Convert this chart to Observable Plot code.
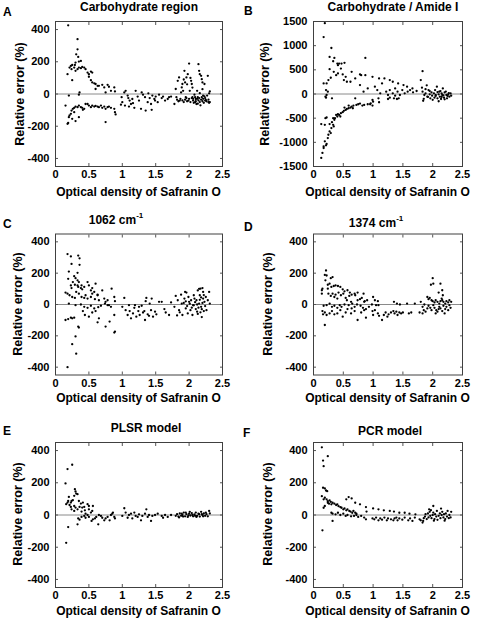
<!DOCTYPE html>
<html><head><meta charset="utf-8">
<script src="https://cdn.jsdelivr.net/npm/d3@7"></script>
<script src="https://cdn.jsdelivr.net/npm/@observablehq/plot@0.6"></script>
<style>
body{margin:0;background:#fff;}
#fig{position:relative;width:483px;height:621px;background:#fff;font-family:"Liberation Sans",Arial,sans-serif;font-weight:bold;color:#000;overflow:hidden}
.p{position:absolute}
.lab{position:absolute;white-space:nowrap;transform:translate(-50%,-50%);font-size:12px;line-height:1}
.ylab{transform:translate(-50%,-50%) rotate(-90deg);font-size:12.5px}
.letter{position:absolute;font-size:12px;line-height:1}
sup{font-size:8px;vertical-align:6px;line-height:0}
</style></head><body><div id="fig"></div>
<script>
const xTicks=[0,0.5,1,1.5,2,2.5];
const yTicks=[-400,-200,0,200,400];
const yTicksB=[-1500,-1000,-500,0,500,1000,1500];
const letters=["A","B","C","D","E","F"];
const titleText=["Carbohydrate region","Carbohydrate / Amide I","1062 cm","1374 cm","PLSR model","PCR model"];
const titleSup=["","","-1","-1","",""];
const xLabel="Optical density of Safranin O";
const yLabel="Relative error (%)";

const panelA=[[0.19,426],[0.33,340],[0.33,277],[0.31,246],[0.34,230],[0.30,195],[0.35,201],[0.38,205],[0.23,174],[0.25,180],[0.28,164],[0.30,144],[0.33,154],[0.35,164],[0.38,160],[0.40,168],[0.43,164],[0.45,154],[0.48,133],[0.50,123],[0.53,139],[0.55,133],[0.18,123],[0.25,86],[0.21,164],[0.24,154],[0.29,180],[0.50,107],[0.53,86],[0.55,72],[0.58,66],[0.60,62],[0.63,51],[0.65,51],[0.70,57],[0.73,41],[0.78,57],[0.80,45],[0.83,20],[0.88,41],[0.89,16],[0.75,10],[0.60,31],[0.20,-10],[0.36,10],[0.35,-4],
[0.18,-185],[0.19,-180],[0.20,-144],[0.23,-123],[0.24,-103],[0.26,-92],[0.28,-86],[0.30,-78],[0.33,-82],[0.35,-72],[0.38,-82],[0.40,-86],[0.43,-92],[0.45,-62],[0.48,-62],[0.50,-72],[0.53,-82],[0.55,-72],[0.58,-78],[0.60,-74],[0.63,-78],[0.65,-82],[0.68,-72],[0.70,-86],[0.73,-78],[0.75,-92],[0.78,-82],[0.80,-78],[0.83,-86],[0.88,-92],[0.89,-113],[0.90,-127],[0.25,-154],[0.30,-168],[0.35,-144],[0.75,-174],[0.15,-72],[0.21,-133],[0.28,-113],[0.41,-98],[0.98,-66],[0.99,-20],[1.04,-72],[1.10,-78],[1.16,-57],
[1.00,-51],[1.03,10],[1.05,20],[1.08,-10],[1.09,-25],[1.11,-41],[1.13,-62],[1.15,-31],[1.18,-86],[1.20,20],[1.23,-16],[1.25,-41],[1.28,-92],[1.29,10],[1.31,-4],[1.34,-20],[1.35,-103],[1.38,-51],[1.39,4],[1.41,-25],[1.43,-62],[1.44,-98],[1.45,-10],[1.48,-31],[1.49,-41],[1.50,-16],[1.53,-51],[1.55,-4],[1.59,-25],[1.61,-16],[1.64,-41],[1.68,-31],[1.70,-20],[1.73,-16],[1.78,-62],
[1.80,31],[1.81,-20],[1.83,82],[1.85,103],[1.86,-41],[1.88,10],[1.89,41],[1.90,62],[1.91,20],[1.93,144],[1.94,72],[1.95,-20],[1.96,103],[1.98,123],[1.99,-41],[2.00,189],[2.01,20],[2.03,82],[2.04,62],[2.05,-20],[2.06,-41],[2.08,-4],[2.09,-51],[2.10,-31],[2.11,-62],[2.13,-20],[2.14,185],[2.15,144],[2.16,123],[2.18,113],[2.19,92],[2.20,72],[2.21,-10],[2.23,62],[2.24,-41],[2.25,-37],[2.28,113],[2.29,-51],[2.30,4],[2.31,16],
[1.82,-35],[1.84,-45],[1.87,-30],[1.90,-40],[1.92,-50],[1.94,-35],[1.96,-25],[1.97,-45],[2.00,-30],[2.02,-50],[2.04,-25],[2.06,-30],[2.07,-55],[2.09,-20],[2.10,-45],[2.12,-30],[2.13,-60],[2.14,-40],[2.15,-25],[2.16,-50],[2.17,-70],[2.18,-35],[2.19,-20],[2.20,-45],[2.21,-30],[2.22,-55],[2.23,-15],[2.24,-25],[2.26,-45],[2.27,-10],[2.29,-35],[2.30,-55],[2.31,-50],[2.02,100],[2.05,40],[1.97,60],[1.92,90],[2.12,20],[2.16,5],[2.20,30]];

const panelB=[[0.19,1466],[0.17,1178],[0.30,952],[0.27,767],[0.35,747],[0.40,630],[0.43,630],[0.41,596],[0.33,678],[0.47,630],[0.52,644],[0.46,527],[0.27,514],[0.34,459],[0.38,390],[0.41,425],[0.49,404],[0.54,356],[0.51,288],[0.56,253],[0.62,253],[0.64,459],[0.70,322],[0.78,404],[0.80,390],[0.87,747],[0.87,390],[0.99,356],[1.10,322],[1.19,322],[1.28,288],[1.33,253],[1.42,219],[1.51,185],[1.57,151],[1.66,116],[1.80,288],[1.83,473],
[0.17,219],[0.22,219],[0.25,288],[0.29,336],[0.21,82],[0.24,48],[0.20,-55],[0.22,-21],[0.21,-75],[0.31,-89],[0.78,185],[0.84,48],[0.91,116],[1.03,151],[1.07,82],[1.12,14],[1.15,219],[1.22,48],[1.25,-21],[1.28,82],[1.33,14],[1.37,116],[1.41,48],[1.45,-21],[1.49,82],[1.53,14],[1.58,48],[1.62,82],[1.67,34],[1.73,62],
[0.70,-89],[0.99,-123],[1.00,-158],[1.09,-89],[1.10,-171],[1.25,-103],[1.28,-75],[1.35,-89],[1.37,-34],[1.40,-103],[1.43,-89],[0.95,-212],[0.99,-240],
[0.13,-1322],[0.15,-1219],[0.17,-1082],[0.19,-979],[0.17,-1117],[0.22,-1034],[0.21,-1062],[0.24,-911],[0.25,-843],[0.20,-500],[0.22,-486],[0.19,-637],[0.13,-623],[0.27,-774],[0.30,-706],[0.31,-582],[0.33,-637],[0.35,-534],[0.34,-671],[0.36,-500],[0.40,-466],[0.41,-418],[0.43,-432],[0.46,-397],[0.49,-377],[0.51,-349],[0.54,-329],[0.56,-308],[0.59,-295],[0.62,-281],[0.64,-260],[0.67,-240],[0.72,-226],[0.75,-212],[0.78,-199],[0.82,-240],[0.85,-226],[0.91,-212],[0.96,-192],[0.33,-500],[0.38,-432],[0.45,-466],[0.52,-281],[0.59,-240],[0.66,-295],[0.29,-808],[0.27,-623],
[1.83,48],[1.86,-21],[1.88,14],[1.91,-55],[1.93,82],[1.95,-7],[1.96,-89],[1.98,34],[1.99,-34],[2.02,14],[2.03,-75],[2.04,82],[2.05,-21],[2.07,151],[2.08,-89],[2.10,-7],[2.11,48],[2.12,-55],[2.14,-103],[2.15,14],[2.16,-21],[2.17,116],[2.19,-75],[2.20,34],[2.23,-21],[2.24,-89],[2.26,-7],[2.28,-55],[2.30,14],[2.31,-34],
[1.85,-100],[1.88,100],[1.90,180],[1.92,-60],[1.95,60],[2.00,-120],[2.05,-40],[2.08,40],[2.10,-150],[2.13,60],[2.15,-60],[2.18,-30],[2.20,-110],[2.22,50],[2.25,-40],[2.27,20],[1.84,-140],[1.82,130]];

const panelC=[[0.18,322],[0.23,307],[0.34,312],[0.36,295],[0.36,253],[0.24,259],[0.20,210],[0.33,202],[0.28,181],[0.30,168],[0.33,154],[0.35,143],
[0.19,164],[0.23,122],[0.24,105],[0.26,143],[0.29,126],[0.33,122],[0.34,112],[0.38,105],[0.40,97],[0.39,122],[0.43,112],[0.48,143],[0.50,122],[0.53,90],[0.55,105],[0.58,80],[0.60,133],[0.63,59],
[0.15,76],[0.18,69],[0.21,59],[0.25,48],[0.29,42],[0.31,80],[0.35,69],[0.39,48],[0.43,42],[0.45,59],[0.48,38],[0.53,48],[0.55,69],[0.59,34],[0.63,63],[0.65,27],[0.70,90],[0.73,38],[0.75,17],[0.78,27],[0.80,-4],[0.84,101],[0.88,48],[0.89,21],
[0.20,6],[0.30,-4],[0.38,0],[0.43,-15],[0.48,-21],[0.53,-8],[0.58,-25],[0.60,-42],[0.64,-17],[0.68,-8],[0.74,6],[0.78,-4],[0.83,-15],
[0.19,-93],[0.23,-84],[0.25,-88],[0.28,-84],[0.41,-42],[0.44,-67],[0.50,-78],[0.55,-51],[0.63,-114],[0.65,-88],[0.75,-141],[0.81,-109],[0.88,-67],[0.89,-173],[0.88,-179],
[0.34,-141],[0.35,-147],[0.30,-204],[0.25,-253],[0.31,-314],[0.18,-400],[0.15,-99],
[1.00,-15],[1.03,42],[1.05,-36],[1.08,-67],[1.10,-4],[1.13,-88],[1.16,-57],[1.19,-4],[1.21,-78],[1.24,-42],[1.26,-67],[1.29,-8],[1.31,-51],[1.34,-99],[1.36,42],[1.38,-63],[1.40,-72],[1.43,-36],[1.44,38],[1.46,-78],[1.49,-46],[1.51,-63],[1.55,17],[1.59,17],[1.63,-29],[1.65,-51],[1.70,-67],[1.73,13],[1.35,21],[1.41,6],[1.25,-15],[1.18,-21],[1.11,-42],[1.33,-42],
[1.78,-15],[1.80,55],[1.83,27],[1.85,-36],[1.88,63],[1.89,6],[1.90,-67],[1.93,38],[1.94,80],[1.95,-25],[1.96,76],[1.98,-57],[1.99,48],[2.00,17],[2.02,-36],[2.03,27],[2.05,-67],[2.06,-4],[2.07,59],[2.08,38],[2.10,-29],[2.11,27],[2.12,-46],[2.13,90],[2.15,6],[2.16,59],[2.17,101],[2.18,-15],[2.20,105],[2.21,38],[2.22,-42],[2.23,17],[2.25,48],[2.26,-36],[2.28,27],[2.30,80],[2.31,6],
[1.92,10],[1.97,-10],[2.01,5],[2.04,-20],[2.09,15],[2.12,0],[2.14,-20],[2.16,30],[2.18,45],[2.19,-30],[2.20,10],[2.22,60],[2.24,-10],[2.17,-50],[2.13,-60],[2.07,-5],[1.95,20],[1.86,-50],[1.82,-70],[2.21,80],[2.15,100],[2.19,-80]];

const panelD=[[0.21,217],[0.19,189],[0.22,185],[0.20,154],[0.29,168],[0.32,175],[0.24,126],[0.27,133],[0.24,101],[0.14,91],[0.15,101],[0.14,69],
[0.30,112],[0.34,118],[0.37,122],[0.41,118],[0.45,112],[0.49,97],[0.52,84],[0.57,91],[0.61,76],[0.64,63],[0.69,69],[0.74,76],[0.84,69],[0.86,21],
[0.25,69],[0.29,55],[0.32,69],[0.35,48],[0.37,63],[0.40,38],[0.42,76],[0.46,59],[0.50,69],[0.54,42],[0.56,27],[0.60,55],[0.63,17],[0.65,6],[0.70,59],[0.74,27],[0.78,34],[0.81,42],[0.85,17],[0.90,27],[1.00,48],[1.03,27],[1.08,21],[1.09,-4],
[0.17,-8],[0.22,-4],[0.27,6],[0.31,-15],[0.35,-8],[0.40,-21],[0.44,-4],[0.47,-15],[0.52,0],[0.59,-4],[0.64,-25],[0.69,-15],[0.73,0],[0.79,-8],[0.83,-21],[0.88,-29],[0.93,-15],[0.98,0],[1.05,-4],
[0.15,-42],[0.19,-51],[0.16,-63],[0.22,-67],[0.27,-57],[0.31,-42],[0.35,-63],[0.40,-57],[0.45,-36],[0.49,-78],[0.54,-51],[0.57,-29],[0.63,-57],[0.69,-42],[0.74,-99],[0.80,-51],[0.85,-36],[0.88,-84],[0.99,-42],[1.00,-67],[1.03,-36],[1.08,-57],[1.10,-72],[1.15,-99],[1.18,-67],[1.21,-51],[1.24,-78],[1.26,-63],[1.30,-51],[1.34,-42],[1.36,-57],[1.39,-46],[1.41,-67],[1.44,-51],[1.47,-57],[1.50,-51],[1.35,17],[1.40,6],[1.45,0],[1.57,6],[1.60,-57],[1.64,-51],[1.70,6],[0.19,-131],
[2.00,168],[1.97,126],[2.01,133],[2.10,76],[2.13,133],[2.16,91],[2.17,59],[2.15,38],
[1.91,48],[1.93,34],[1.95,42],[1.98,27],[2.00,21],[2.03,13],[2.05,27],[2.08,17],[2.11,6],[2.13,21],[2.16,27],[2.18,17],[2.21,6],[2.23,21],[2.26,13],[2.28,27],[2.31,17],
[1.80,17],[1.83,-15],[1.85,-36],[1.88,-46],[1.91,-25],[1.93,-8],[1.96,-21],[1.98,-36],[2.01,-4],[2.03,-21],[2.06,-36],[2.08,-46],[2.11,-15],[2.13,-25],[2.16,-42],[2.18,-8],[2.21,-29],[2.23,-15],[2.26,-36],[2.28,-4],[2.30,-21],[1.78,-51],[1.83,-57],[1.86,0],[2.05,-57],[2.10,-29],[2.20,-57]];

const panelE=[[0.25,312],[0.18,285],[0.15,196],
[0.29,160],[0.31,133],[0.30,146],[0.33,129],[0.28,119],[0.20,112],[0.19,87],[0.24,87],[0.26,92],[0.18,77],[0.16,67],[0.23,77],[0.21,62],[0.23,50],[0.28,56],[0.35,87],[0.38,71],[0.41,77],[0.24,35],[0.28,25],[0.30,46],[0.33,35],[0.36,50],[0.40,46],[0.43,50],[0.48,67],[0.50,56],[0.39,21],[0.44,29],[0.50,35],[0.53,15],[0.55,25],[0.56,56],[0.45,8],
[0.19,-75],[0.16,-173],[0.33,-58],
[0.34,-21],[0.36,-29],[0.39,-12],[0.43,-6],[0.45,-17],[0.48,0],[0.50,-12],[0.54,-37],[0.56,-27],[0.59,-21],[0.61,-12],[0.64,-58],[0.65,0],[0.68,-6],[0.70,-17],[0.73,-33],[0.75,-21],[0.78,-12],[0.81,-33],[0.83,0],[0.85,8],[0.88,-12],[0.89,-21],[0.86,15],
[1.00,-6],[1.03,42],[1.05,15],[1.08,-17],[1.10,0],[1.13,8],[1.15,-21],[1.18,15],[1.20,-6],[1.23,-12],[1.25,4],[1.28,-33],[1.30,-6],[1.34,8],[1.36,35],[1.38,-12],[1.40,0],[1.43,-37],[1.45,-6],[1.49,0],[1.53,8],[1.59,-6],[1.61,-17],[1.64,0],[1.68,-12],[1.73,0],
[1.80,-5],[1.82,5],[1.84,-10],[1.86,10],[1.88,-5],[1.90,0],[1.92,15],[1.94,-8],[1.96,5],[1.98,-12],[2.00,8],[2.02,-3],[2.04,12],[2.06,-8],[2.08,3],[2.10,15],[2.12,-5],[2.14,8],[2.16,-10],[2.18,20],[2.20,0],[2.22,10],[2.24,-5],[2.26,5],[2.28,-8],[2.30,25],[2.31,10],[1.85,-15],[1.95,15],[2.05,0],[2.15,5],[2.25,15],[1.91,-10],[2.01,20],[2.11,-12],[2.21,-8],[2.19,5],[2.09,-5],[1.99,-3],[1.89,8]];

const panelF=[[0.14,420],[0.16,338],[0.24,365],[0.17,303],
[0.16,169],[0.19,165],[0.21,152],[0.23,148],
[0.14,117],[0.17,97],[0.19,107],[0.22,97],[0.24,86],[0.27,91],[0.24,76],[0.26,70],[0.29,82],[0.30,66],[0.32,76],[0.35,70],[0.38,62],[0.40,66],[0.42,55],[0.45,49],[0.47,45],[0.50,35],[0.52,41],[0.55,29],[0.57,35],[0.60,25],[0.62,21],[0.65,14],[0.67,25],[0.70,14],[0.72,8],
[0.55,97],[0.59,111],[0.64,103],[0.70,76],[0.78,66],[0.88,49],[0.89,21],[1.00,41],[1.09,35],[1.18,29],[1.28,25],[1.35,21],[1.44,14],[1.53,14],[1.61,8],[1.71,4],
[0.19,56],[0.17,45],
[0.30,14],[0.32,8],[0.37,4],[0.41,14],[0.45,0],[0.50,8],[0.54,-6],[0.57,0],[0.63,-8],[0.68,-6],[0.72,0],[0.75,-12],[0.80,-6],[0.85,-16],[0.88,-27],[0.32,-37],[0.15,-95],
[0.99,-21],[1.02,-27],[1.05,-16],[1.09,-33],[1.12,-21],[1.15,-29],[1.19,-16],[1.23,-33],[1.25,-21],[1.30,-27],[1.34,-33],[1.36,-21],[1.39,-16],[1.41,-33],[1.44,-21],[1.49,-29],[1.53,-16],[1.59,-33],[1.62,-21],[1.66,-37],[1.70,-16],[1.78,-27],[1.80,-33],[1.83,-47],[1.84,-37],[2.01,56],
[1.85,-20],[1.87,-10],[1.88,5],[1.90,-25],[1.92,10],[1.93,-15],[1.95,20],[1.96,-5],[1.97,30],[1.98,-20],[2.00,0],[2.01,15],[2.03,-25],[2.04,5],[2.06,-10],[2.07,25],[2.08,-30],[2.10,-5],[2.12,10],[2.13,-20],[2.15,0],[2.16,20],[2.18,-15],[2.19,5],[2.21,-25],[2.22,10],[2.24,-10],[2.25,25],[2.27,-20],[2.28,0],[2.30,-15],[2.31,20],[1.94,35],[2.02,-35],[2.14,40],[2.20,-35]];

const datasets=[panelA,panelB,panelC,panelD,panelE,panelF];

// layout (positions only)
const layout=[
 {left:0,  top:0,   w:240,h:205,ml:55,mr:18,mt:21,  mb:39,  letter:[3,6],   title:[139,7],  ylab:[20,93.5], xlab:[138.5,191.5]},
 {left:240,top:0,   w:243,h:205,ml:73,mr:21,mt:21,  mb:39,  letter:[244,5], title:[393,7],  ylab:[265,93.5],xlab:[387.5,191.5]},
 {left:0,  top:205, w:240,h:205,ml:55,mr:18,mt:28.5,mb:35.5,letter:[3,218], title:[116,220],ylab:[18,304],  xlab:[138.5,398]},
 {left:240,top:205, w:243,h:205,ml:73,mr:21,mt:28.5,mb:35.5,letter:[244,221],title:[376,223],ylab:[268,304], xlab:[387.5,398]},
 {left:0,  top:410, w:240,h:211,ml:55,mr:18,mt:32,  mb:34,  letter:[3,425], title:[146,428],ylab:[18,514],  xlab:[138.5,611]},
 {left:240,top:410, w:243,h:211,ml:73,mr:21,mt:32,  mb:34,  letter:[243,427],title:[390,431],ylab:[268,514], xlab:[387.5,611]}
];

const fig=document.getElementById("fig");
const fmt=d=>String(d);
function addDiv(cls,html,x,y){const e=document.createElement("div");e.className=cls;e.innerHTML=html;e.style.left=x+"px";e.style.top=y+"px";fig.appendChild(e);return e;}

layout.forEach((L,i)=>{
  const big=i===1;
  const yT=big?yTicksB:yTicks;
  const chart=Plot.plot({
    width:L.w,height:L.h,
    marginLeft:L.ml,marginRight:L.mr,marginTop:L.mt,marginBottom:L.mb,
    x:{domain:[0,2.5]},
    y:{domain:big?[-1500,1500]:[-450,450]},
    style:{fontFamily:"'Liberation Sans',Arial,sans-serif",fontSize:"11px",fontWeight:"bold",color:"#000",background:"transparent",overflow:"visible"},
    marks:[
      Plot.ruleY([0],{stroke:"#8a8a8a",strokeWidth:1}),
      Plot.dot(datasets[i],{x:d=>d[0],y:d=>d[1],r:1.15,fill:"#000",stroke:null}),
      Plot.axisX(xTicks,{anchor:"bottom",tickSize:0,tickPadding:4,tickFormat:fmt,label:null}),
      Plot.axisX(xTicks,{anchor:"bottom",tickSize:3,dy:-3,tickFormat:()=>"",label:null,stroke:"#555"}),
      Plot.axisX(xTicks,{anchor:"top",tickSize:3,dy:3,tickFormat:()=>"",label:null,stroke:"#555"}),
      Plot.axisY(yT,{anchor:"left",tickSize:0,tickPadding:6,tickFormat:fmt,label:null}),
      Plot.axisY(yT,{anchor:"left",tickSize:3,dx:3,tickFormat:()=>"",label:null,stroke:"#555"}),
      Plot.axisY(yT,{anchor:"right",tickSize:3,dx:-3,tickFormat:()=>"",label:null,stroke:"#555"}),
      Plot.frame({stroke:"#404040"})
    ]
  });
  const wrap=document.createElement("div");
  wrap.className="p";wrap.style.left=L.left+"px";wrap.style.top=L.top+"px";
  wrap.appendChild(chart);fig.appendChild(wrap);
  addDiv("letter",letters[i],L.letter[0],L.letter[1]);
  addDiv("lab",titleText[i]+(titleSup[i]?"<sup>"+titleSup[i]+"</sup>":""),L.title[0],L.title[1]);
  addDiv("lab ylab",yLabel,L.ylab[0],L.ylab[1]);
  addDiv("lab",xLabel,L.xlab[0],L.xlab[1]);
});
</script></body></html>
